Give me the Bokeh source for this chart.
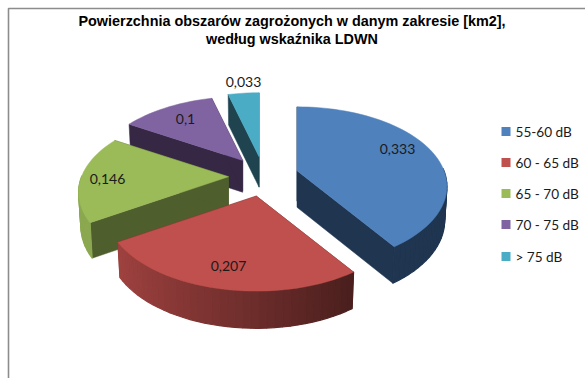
import numpy as np
from bokeh.plotting import figure
from bokeh.models import Range1d
from bokeh.core.properties import value
from bokeh.embed import file_html
from bokeh.resources import INLINE

categories = ["55-60 dB", "60 - 65 dB", "65 - 70 dB", "70 - 75 dB", "> 75 dB"]
values = [0.333, 0.207, 0.146, 0.1, 0.033]
labels = ["0,333", "0,207", "0,146", "0,1", "0,033"]
top_colors = ["#4f81bd", "#c0504d", "#9bbb59", "#8064a2", "#4bacc6"]
cut_colors = ["#1f3550", "#4c1f1e", "#4f5e2d", "#362745", "#1f4450"]
title_lines = ["Powierzchnia obszarów zagrożonych w danym zakresie [km2],",
               "według wskaźnika LDWN"]
label_x = [397, 228, 107, 185, 243]
label_y = [148, 265, 178, 118, 81]
legend_y = [131, 162, 193, 224, 256]

CX, CY = 263, 176      # pie centre in page pixels
RX, RY = 147, 76.4     # radii of the pie
P = 0.196              # perspective strength
EX, EY = 35, 20        # explosion
DEPTH = 33.5

p = figure(width=585, height=378, x_range=Range1d(0, 585), y_range=Range1d(378, 0),
           toolbar_location=None, output_backend="svg", min_border=0,
           x_axis_location=None, y_axis_location=None)
p.grid.visible = False
p.outline_line_color = None
p.background_fill_color = "white"
p.border_fill_color = "white"


def proj(t):
    u, v = np.sin(t), -np.cos(t)
    w = 1 - P * v
    return RX * u / w, RY * v / w


def lower(ax, x, y, t):
    v = -np.cos(t)
    return ax + (x - ax) * 0.985, y + DEPTH / (1 - 0.1 * v)


def shade(hex_color, f):
    r, g, b = (int(hex_color[i:i + 2], 16) for i in (1, 3, 5))
    return "#%02x%02x%02x" % (int(r * f), int(g * f), int(b * f))


total = sum(values)
fracs = np.cumsum([0] + values) / total * 2 * np.pi
order = sorted(range(len(values)), key=lambda i: -np.cos((fracs[i] + fracs[i + 1]) / 2))

for i in order:
    a0, a1 = fracs[i], fracs[i + 1]
    mid = (a0 + a1) / 2
    ax = CX + EX * np.sin(mid)
    ay = CY - EY * np.cos(mid)
    ts = np.linspace(a0, a1, max(int(np.degrees(a1 - a0) / 2.5), 2) + 1)
    rim = [(ax + proj(t)[0], ay + proj(t)[1]) for t in ts]
    # cut faces
    for t, c in ((a0, rim[0]), (a1, rim[-1])):
        bx0, by0 = lower(ax, ax, ay, t)
        bx1, by1 = lower(ax, c[0], c[1], t)
        p.patch([ax, c[0], bx1, bx0], [ay, c[1], by1, by0],
                fill_color=cut_colors[i], line_color=cut_colors[i], line_width=0.5)
    # outer wall (only the part facing the viewer)
    for k in range(len(ts) - 1):
        tm = (ts[k] + ts[k + 1]) / 2
        if -np.cos(tm) < -0.03:
            continue
        x0, y0 = rim[k]
        x1, y1 = rim[k + 1]
        bx0, by0 = lower(ax, x0, y0, ts[k])
        bx1, by1 = lower(ax, x1, y1, ts[k + 1])
        f = 0.56 - 0.32 * np.sin(tm)
        if i == 2:
            f = 0.90
        col = cut_colors[0] if i == 0 else shade(top_colors[i], f)
        p.patch([x0, x1, bx1, bx0], [y0, y1, by1, by0],
                fill_color=col, line_color=col, line_width=1.2)
    # top face
    xs = [ax] + [c[0] for c in rim]
    ys = [ay] + [c[1] for c in rim]
    p.patch(xs, ys, fill_color=top_colors[i], line_color=top_colors[i], line_width=0.5)

p.text(x=label_x, y=label_y, text=labels, text_align="center", text_baseline="middle",
       text_font=value("Lato"), text_font_size="14px", text_color="#1a1a1a")

# title
p.text(x=[291.5, 291.5], y=[20, 38], text=title_lines, text_align="center", text_baseline="middle",
       text_font=value("Liberation Sans"), text_font_style="bold", text_font_size="14.4px",
       text_color="black")

# legend
p.scatter(x=[505.5] * 5, y=legend_y, marker="square", size=9, color=top_colors, line_width=0)
p.text(x=[515] * 5, y=legend_y, text=categories, text_align="left", text_baseline="middle",
       text_font=value("Lato"), text_font_size="13.6px", text_color="#1a1a1a")

# chart frame
p.line([8, 8, 585], [378, 8, 8], line_color="#8c8c8c", line_width=1.6)

open("out.html", "w").write(file_html(p, INLINE))
